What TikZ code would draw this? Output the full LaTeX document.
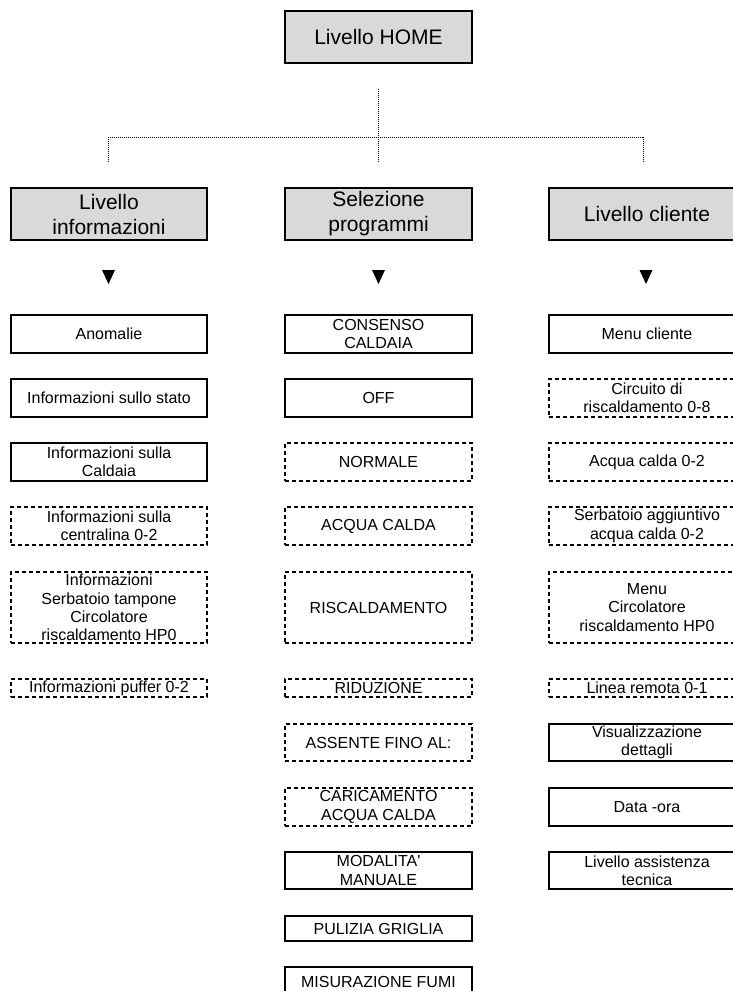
\documentclass[tikz,border=0pt]{standalone}
\usepackage{fontspec}
\setmainfont{Liberation Sans}[Ligatures=TeXOff]
\begin{document}
\begin{tikzpicture}[x=1pt,y=-1pt,
  boxbase/.style={rectangle, draw=black, line width=1.4pt, inner sep=0pt, align=center,
    font=\fontsize{16}{18.4}\selectfont},
  solidbox/.style={boxbase},
  dashbox/.style={boxbase, dash pattern=on 4pt off 3pt},
  levelbox/.style={rectangle, draw=black, fill=black!15, line width=1.4pt, inner sep=0pt,
    align=center, font=\fontsize{21}{25}\selectfont},
  colL/.style={minimum width=196pt},
  colM/.style={minimum width=187pt},
  colR/.style={minimum width=196pt},
  tree/.style={line width=1pt, dash pattern=on 1pt off 1pt},
  tri/.style={fill=black}
]
\useasboundingbox (0,0) rectangle (733,991);

% top level
\node[levelbox, colM, minimum height=52pt] (home) at (378.5,37) {Livello HOME};

% tree connector
\coordinate (t0) at (378.5,89);
\coordinate (tj) at (378.5,137);
\coordinate (tl) at (108,137);
\coordinate (tr) at (643,137);
\coordinate (dl) at (108,162);
\coordinate (dm) at (378.5,162);
\coordinate (dr) at (643,162);
\draw[tree] (t0) -- (tj);
\draw[tree] (tl) -- (tr);
\draw[tree] (tl) -- (dl);
\draw[tree] (tj) -- (dm);
\draw[tree] (tr) -- (dr);

% second level
\node[levelbox, colL, minimum height=52pt] (info) at (109,214) {Livello\\informazioni};
\node[levelbox, colM, minimum height=52pt] (prog) at (378.5,214) {Selezione\\programmi};
\node[levelbox, colR, minimum height=52pt] (cli) at (647,214) {Livello cliente};

% triangles
\coordinate (trL) at (108.5,277);
\coordinate (trM) at (378.5,277);
\coordinate (trR) at (646,277);
\foreach \t in {trL,trM,trR}
  \fill[tri] (\t) ++(-6.5,-7) -- ++(13,0) -- ++(-6.5,14) -- cycle;

% left column
\node[solidbox, colL, minimum height=38pt] (a1) at (109,334) {Anomalie};
\node[solidbox, colL, minimum height=38pt] (a2) at (109,398) {Informazioni sullo stato};
\node[solidbox, colL, minimum height=38pt] (a3) at (109,462) {Informazioni sulla\\Caldaia};
\node[dashbox, colL, minimum height=38pt] (a4) at (109,526) {Informazioni sulla\\centralina 0-2};
\node[dashbox, colL, minimum height=71pt] (a5) at (109,607.5) {Informazioni\\Serbatoio tampone\\Circolatore\\riscaldamento HP0};
\node[dashbox, colL, minimum height=18pt] (a6) at (109,688) {Informazioni puffer 0-2};

% middle column
\node[solidbox, colM, minimum height=38pt] (b1) at (378.5,334) {CONSENSO\\CALDAIA};
\node[solidbox, colM, minimum height=38pt] (b2) at (378.5,398) {OFF};
\node[dashbox, colM, minimum height=38pt] (b3) at (378.5,462) {NORMALE};
\node[dashbox, colM, minimum height=38pt] (b4) at (378.5,526) {ACQUA CALDA};
\node[dashbox, colM, minimum height=71pt] (b5) at (378.5,607.5) {RISCALDAMENTO};
\node[dashbox, colM, minimum height=18pt] (b6) at (378.5,688) {RIDUZIONE};
\node[dashbox, colM, minimum height=37pt] (b7) at (378.5,742.5) {ASSENTE FINO AL:};
\node[dashbox, colM, minimum height=38pt] (b8) at (378.5,807) {CARICAMENTO\\ACQUA CALDA};
\node[solidbox, colM, minimum height=37pt] (b9) at (378.5,870.5) {MODALITA'\\MANUALE};
\node[solidbox, colM, minimum height=25pt] (b10) at (378.5,928.5) {PULIZIA GRIGLIA};
\node[solidbox, colM, minimum height=30pt] (b11) at (378.5,982) {MISURAZIONE FUMI};

% right column
\node[solidbox, colR, minimum height=38pt] (c1) at (647,334) {Menu cliente};
\node[dashbox, colR, minimum height=38pt] (c2) at (647,398) {Circuito di\\riscaldamento 0-8};
\node[dashbox, colR, minimum height=38pt] (c3) at (647,462) {Acqua calda 0-2};
\node[dashbox, colR, minimum height=38pt] (c4) at (647,526) {Serbatoio aggiuntivo\\acqua calda 0-2};
\node[dashbox, colR, minimum height=71pt] (c5) at (647,607.5) {Menu\\Circolatore\\riscaldamento HP0};
\node[dashbox, colR, minimum height=18pt] (c6) at (647,688) {Linea remota 0-1};
\node[solidbox, colR, minimum height=37pt] (c7) at (647,742.5) {Visualizzazione\\dettagli};
\node[solidbox, colR, minimum height=38pt] (c8) at (647,807) {Data -ora};
\node[solidbox, colR, minimum height=37pt] (c9) at (647,870.5) {Livello assistenza\\tecnica};
\end{tikzpicture}
\end{document}
